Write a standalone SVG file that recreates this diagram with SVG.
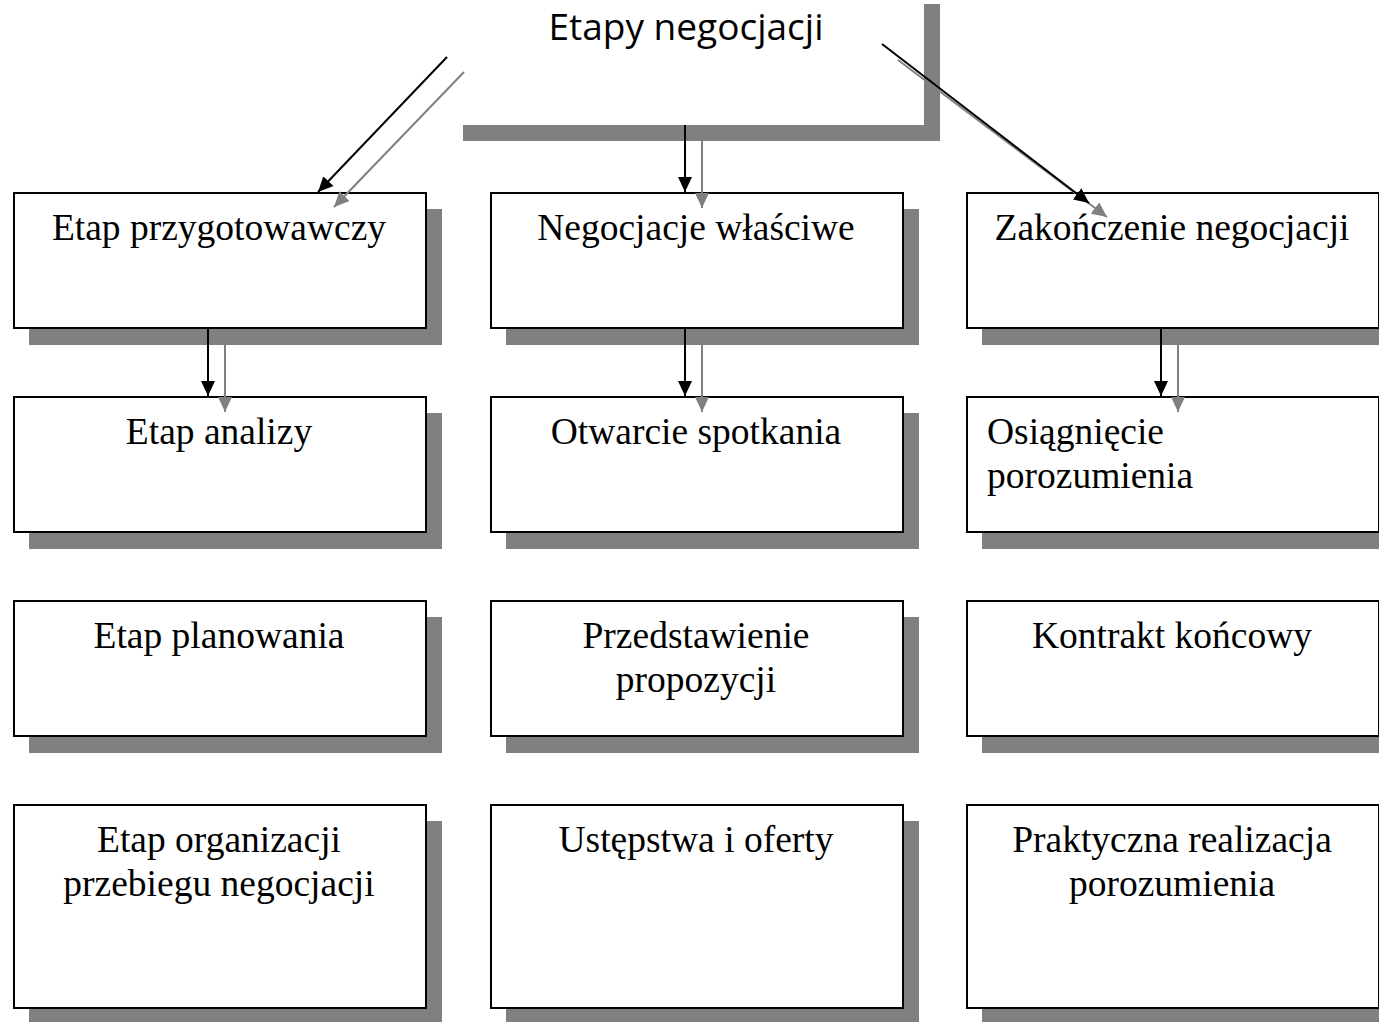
<svg xmlns="http://www.w3.org/2000/svg" width="1379" height="1022" viewBox="0 0 1379 1022">
<style>
.box{fill:#fff;stroke:#000;stroke-width:2}
.sh{fill:#808080}
.t{font-family:"Liberation Serif","Times New Roman",serif;font-size:37.5px;fill:#000}
.c{text-anchor:middle}
.bl{stroke:#000;stroke-width:2;fill:none;marker-end:url(#ab)}
.gr{stroke:#808080;stroke-width:2;fill:none;marker-end:url(#ag)}
</style>
<defs>
<marker id="ab" markerWidth="15" markerHeight="14" refX="15" refY="7" orient="auto" markerUnits="userSpaceOnUse" viewBox="0 0 15 14">
<path d="M0,0 L15,7 L0,14 z" fill="#000"/>
</marker>
<marker id="ag" markerWidth="15" markerHeight="14" refX="15" refY="7" orient="auto" markerUnits="userSpaceOnUse" viewBox="0 0 15 14">
<path d="M0,0 L15,7 L0,14 z" fill="#808080"/>
</marker>
</defs>
<rect width="1379" height="1022" fill="#fff"/>
<g id="title">
<rect class="sh" x="924" y="4" width="16" height="137"/>
<rect class="sh" x="463" y="125" width="477" height="16"/>
<text x="686" y="40" font-family="'Open Sans','Liberation Sans',sans-serif" font-size="37" text-anchor="middle">Etapy negocjacji</text>
</g>
<g id="n1"><rect class="sh" x="29" y="209" width="413" height="136"/><rect class="box" x="14" y="193" width="412" height="135"/><text class="t c" x="219" y="240">Etap przygotowawczy</text></g>
<g id="n2"><rect class="sh" x="506" y="209" width="413" height="136"/><rect class="box" x="491" y="193" width="412" height="135"/><text class="t c" x="696" y="240">Negocjacje właściwe</text></g>
<g id="n3"><rect class="sh" x="982" y="209" width="413" height="136"/><rect class="box" x="967" y="193" width="412" height="135"/><text class="t c" x="1172" y="240">Zakończenie negocjacji</text></g>
<g id="n4"><rect class="sh" x="29" y="413" width="413" height="136"/><rect class="box" x="14" y="397" width="412" height="135"/><text class="t c" x="219" y="444">Etap analizy</text></g>
<g id="n5"><rect class="sh" x="506" y="413" width="413" height="136"/><rect class="box" x="491" y="397" width="412" height="135"/><text class="t c" x="696" y="444">Otwarcie spotkania</text></g>
<g id="n6"><rect class="sh" x="982" y="413" width="413" height="136"/><rect class="box" x="967" y="397" width="412" height="135"/><text class="t" x="987" y="444">Osiągnięcie</text><text class="t" x="987" y="488">porozumienia</text></g>
<g id="n7"><rect class="sh" x="29" y="617" width="413" height="136"/><rect class="box" x="14" y="601" width="412" height="135"/><text class="t c" x="219" y="648">Etap planowania</text></g>
<g id="n8"><rect class="sh" x="506" y="617" width="413" height="136"/><rect class="box" x="491" y="601" width="412" height="135"/><text class="t c" x="696" y="648">Przedstawienie</text><text class="t c" x="696" y="692">propozycji</text></g>
<g id="n9"><rect class="sh" x="982" y="617" width="413" height="136"/><rect class="box" x="967" y="601" width="412" height="135"/><text class="t c" x="1172" y="648">Kontrakt końcowy</text></g>
<g id="n10"><rect class="sh" x="29" y="821" width="413" height="204"/><rect class="box" x="14" y="805" width="412" height="203"/><text class="t c" x="219" y="852">Etap organizacji</text><text class="t c" x="219" y="896">przebiegu negocjacji</text></g>
<g id="n11"><rect class="sh" x="506" y="821" width="413" height="204"/><rect class="box" x="491" y="805" width="412" height="203"/><text class="t c" x="696" y="852">Ustępstwa i oferty</text></g>
<g id="n12"><rect class="sh" x="982" y="821" width="413" height="204"/><rect class="box" x="967" y="805" width="412" height="203"/><text class="t c" x="1172" y="852">Praktyczna realizacja</text><text class="t c" x="1172" y="896">porozumienia</text></g>
<g id="connectors">
<line class="gr" x1="464" y1="72" x2="334" y2="207"/>
<line class="bl" x1="447" y1="57" x2="318" y2="192"/>
<line class="gr" x1="702" y1="141" x2="702" y2="208"/>
<line class="bl" x1="685" y1="125" x2="685" y2="192"/>
<line class="gr" x1="898" y1="60" x2="1107" y2="217"/>
<line class="bl" x1="882" y1="44" x2="1089" y2="203"/>
<line class="gr" x1="225" y1="344" x2="225" y2="412"/>
<line class="bl" x1="208" y1="328" x2="208" y2="396"/>
<line class="gr" x1="702" y1="344" x2="702" y2="412"/>
<line class="bl" x1="685" y1="328" x2="685" y2="396"/>
<line class="gr" x1="1178" y1="344" x2="1178" y2="412"/>
<line class="bl" x1="1161" y1="328" x2="1161" y2="396"/>
</g>
</svg>
